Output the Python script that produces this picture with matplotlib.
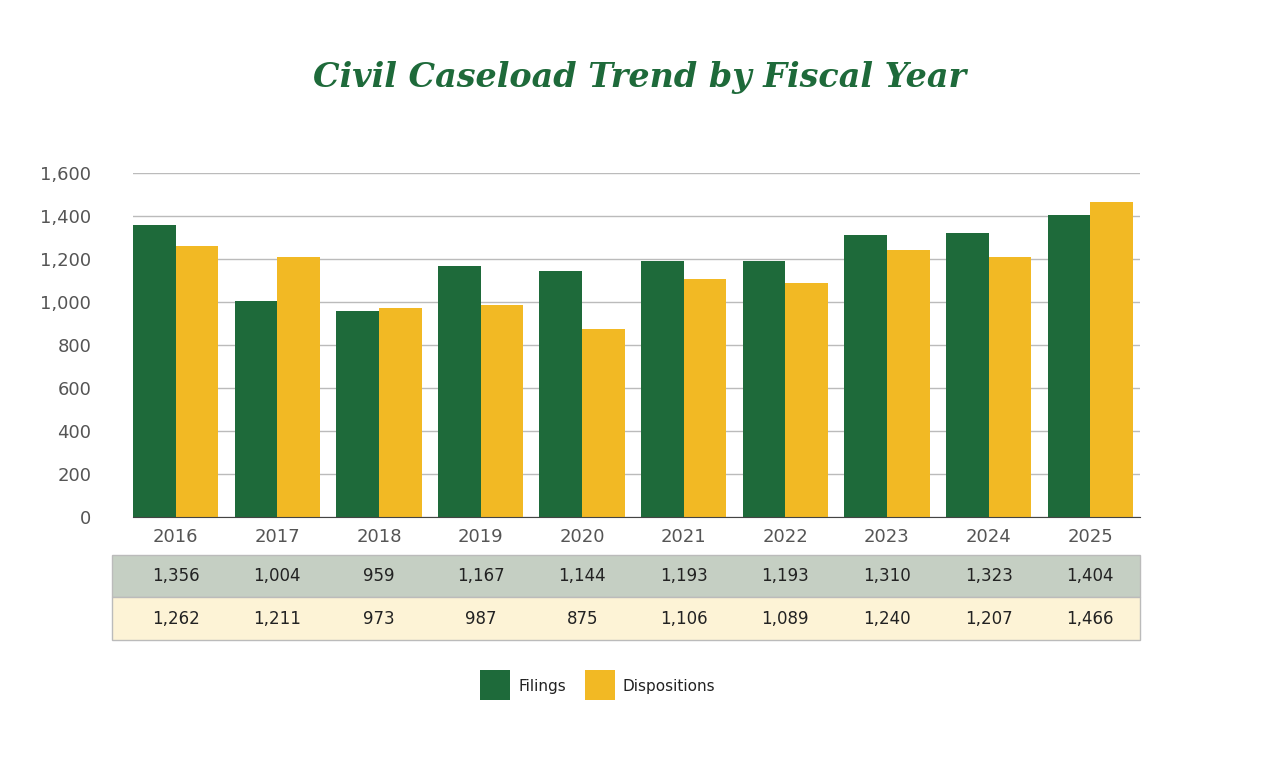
import matplotlib.pyplot as plt
import numpy as np
from matplotlib.patches import Rectangle

years = ['2016', '2017', '2018', '2019', '2020', '2021', '2022', '2023', '2024', '2025']
filings = [1356, 1004, 959, 1167, 1144, 1193, 1193, 1310, 1323, 1404]
dispositions = [1262, 1211, 973, 987, 875, 1106, 1089, 1240, 1207, 1466]

GREEN = '#1e6a3a'
GOLD = '#f2b924'

fig = plt.figure(figsize=(12.8, 7.57), dpi=100)
ax = fig.add_axes([133/1280, 1-517/757, 1007/1280, 344/757])
x = np.arange(len(years))
w = 0.42
ax.bar(x - w/2, filings, w, color=GREEN)
ax.bar(x + w/2, dispositions, w, color=GOLD)
ax.set_xlim(-0.42, 9.49)
ax.set_ylim(0, 1600)
ax.set_yticks(range(0, 1601, 200))
ax.set_yticklabels([f'{v:,}' for v in range(0, 1601, 200)])
ax.yaxis.grid(True, color='#bbbbbb', lw=1)
ax.set_axisbelow(True)
for s in ['top', 'right', 'left']:
    ax.spines[s].set_visible(False)
ax.spines['bottom'].set_color('#444444')
ax.tick_params(axis='y', length=0, labelsize=13, labelcolor='#555555', pad=30)
ax.set_xticks(x)
ax.set_xticklabels(years)
ax.tick_params(axis='x', length=0, labelsize=13, labelcolor='#555555', pad=8)

fig.text(0.5, 1-78/757, 'Civil Caseload Trend by Fiscal Year', ha='center', va='center',
         family='DejaVu Serif', weight='bold', style='italic', fontsize=24, color=GREEN)

# table beneath the chart
tab = [(filings, '#c5cfc3', 555, 597), (dispositions, '#fdf3d6', 597, 640)]
for vals, col, top, bot in tab:
    fig.patches.append(Rectangle((112/1280, 1-bot/757), 1028/1280, (bot-top)/757,
                                 transform=fig.transFigure, facecolor=col,
                                 edgecolor='#bbbbbb', lw=1))
    for i, v in enumerate(vals):
        xf = ax.transData.transform((i, 0))[0] / fig.bbox.width
        fig.text(xf, 1-(top+bot)/2/757, f'{v:,}', ha='center', va='center',
                 fontsize=12, color='#222222')

# legend
for x0, lab, col in [(480, 'Filings', GREEN), (585, 'Dispositions', GOLD)]:
    fig.patches.append(Rectangle((x0/1280, 1-700/757), 30/1280, 30/757,
                                 transform=fig.transFigure, facecolor=col))
    fig.text((x0+38)/1280, 1-686/757, lab, ha='left', va='center', fontsize=11, color='#222222')

fig.savefig('out.png', dpi=100)
